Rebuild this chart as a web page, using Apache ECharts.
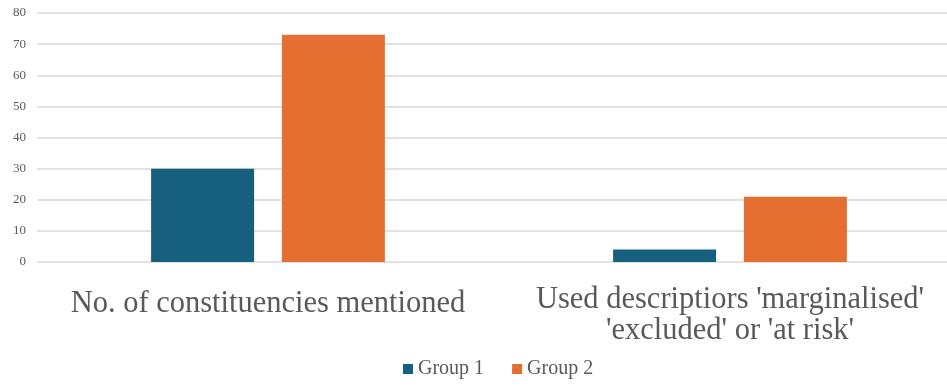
<!DOCTYPE html>
<html>
<head>
<meta charset="utf-8">
<script src="https://cdn.jsdelivr.net/npm/echarts@6/dist/echarts.min.js"></script>
<style>html,body{margin:0;padding:0;background:#fff;overflow:hidden;width:947px;height:389px;}#c{width:965px;height:389px;}</style>
</head>
<body>
<div id="c"></div>
<script>
var categories = ["No. of constituencies mentioned", "Used descriptiors 'marginalised'\n'excluded' or 'at risk'"];
var group1 = [30, 4];
var group2 = [73, 21];
var yTicks = [0, 10, 20, 30, 40, 50, 60, 70, 80];
var seriesNames = ["Group 1", "Group 2"];

var chart = echarts.init(document.getElementById('c'), null, {renderer: 'canvas'});
var font = "Liberation Serif";
var catData = categories.map(function (c, i) {
  return i === 0 ? {value: c, textStyle: {padding: [4, 0, 0, 0]}} : {value: c};
});
chart.setOption({
  animation: false,
  grid: {left: 37, right: 4, top: 13, bottom: 127, containLabel: false},
  legend: {
    data: seriesNames,
    bottom: 5,
    left: 398,
    icon: 'rect',
    itemWidth: 10,
    itemHeight: 10,
    itemGap: 28,
    textStyle: {fontFamily: font, fontSize: 20, color: '#595959'}
  },
  xAxis: {
    type: 'category',
    data: catData,
    axisLine: {show: false},
    axisTick: {show: false},
    axisLabel: {
      fontFamily: font, fontSize: 30.5, color: '#595959', margin: 22, lineHeight: 31, interval: 0
    }
  },
  yAxis: {
    type: 'value',
    min: yTicks[0],
    max: yTicks[yTicks.length - 1],
    interval: 10,
    axisLine: {show: false},
    axisTick: {show: false},
    splitLine: {lineStyle: {color: '#d9d9d9', width: 1.5}},
    axisLabel: {fontFamily: font, fontSize: 13, color: '#595959', margin: 11}
  },
  series: [
    {name: seriesNames[0], type: 'bar', data: group1, barWidth: 103, barGap: '27%', itemStyle: {color: '#175F7F'}},
    {name: seriesNames[1], type: 'bar', data: group2, barWidth: 103, barGap: '27%', itemStyle: {color: '#E56E31'}}
  ]
});
</script>
</body>
</html>
